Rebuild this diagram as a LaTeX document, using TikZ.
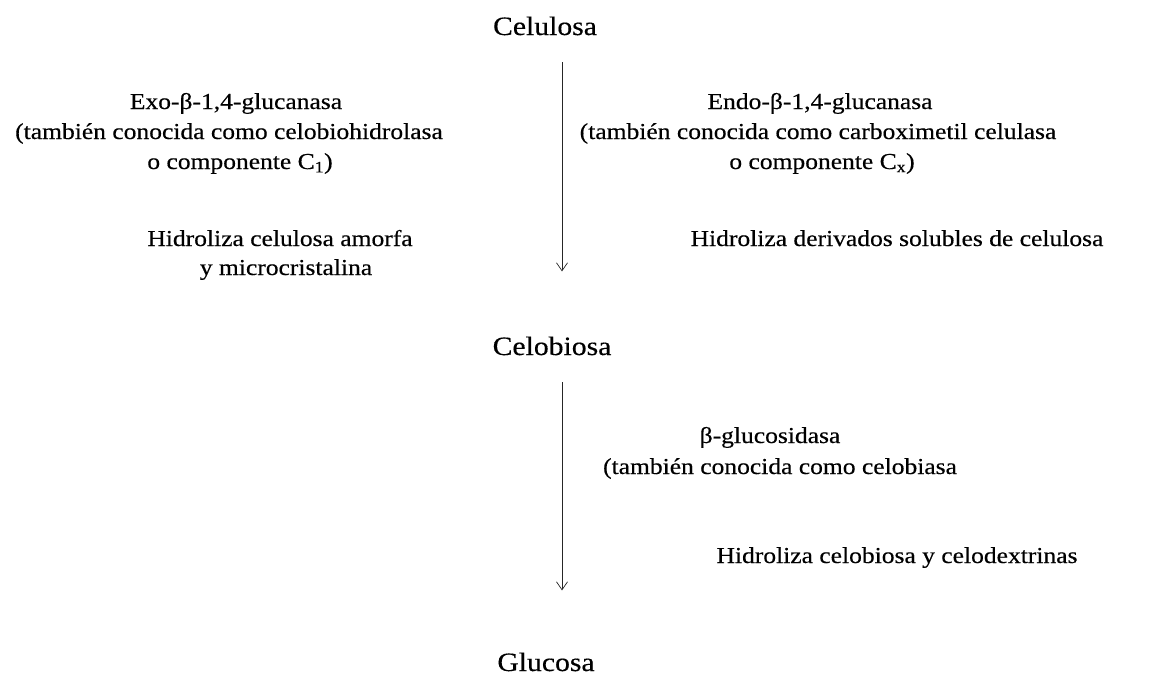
\documentclass[tikz,border=0pt]{standalone}
\usepackage{fontspec}
\setmainfont{Liberation Serif}[FakeStretch=1.12,FakeBold=0.4]
\usetikzlibrary{arrows.meta}
\tikzset{
  body/.style={anchor=base, inner sep=0pt, font=\fontsize{22.8}{27}\selectfont},
  title/.style={anchor=base, inner sep=0pt, font=\fontsize{26.5}{31}\selectfont},
  arr/.style={draw=black!85, line width=0.7pt, -{Straight Barb[length=8pt,width=11pt,line width=0.7pt]}}
}
\begin{document}
\begin{tikzpicture}[x=1pt,y=-1pt]
\useasboundingbox (0,0) rectangle (1161,675);
\coordinate (ax) at (562,0);
\node[title] (celulosa) at (545,35) {Celulosa};
\node[body] (exo1) at (236,109) {Exo-β-1,4-glucanasa};
\node[body] (exo2) at (229,139) {(también conocida como celobiohidrolasa};
\node[body] (exo3) at (240,169) {o componente C\textsubscript{1})};
\node[body] (hexo1) at (280,246) {Hidroliza celulosa amorfa};
\node[body] (hexo2) at (286,275) {y microcristalina};
\node[body] (endo1) at (820,109) {Endo-β-1,4-glucanasa};
\node[body] (endo2) at (818,139) {(también conocida como carboximetil celulasa};
\node[body] (endo3) at (822,169) {o componente C\textsubscript{x})};
\node[body] (hendo) at (897,246) {Hidroliza derivados solubles de celulosa};
\node[title] (celobiosa) at (552,355) {Celobiosa};
\node[body] (beta1) at (770,443) {β-glucosidasa};
\node[body] (beta2) at (780,474) {(también conocida como celobiasa};
\node[body] (hbeta) at (897,563) {Hidroliza celobiosa y celodextrinas};
\node[title] (glucosa) at (546,671) {Glucosa};
\draw[arr, shorten <=27pt, shorten >=65pt] (celulosa.south -| ax) -- (celobiosa.north -| ax);
\draw[arr, shorten <=27pt, shorten >=62pt] (celobiosa.south -| ax) -- (glucosa.north -| ax);
\end{tikzpicture}
\end{document}
